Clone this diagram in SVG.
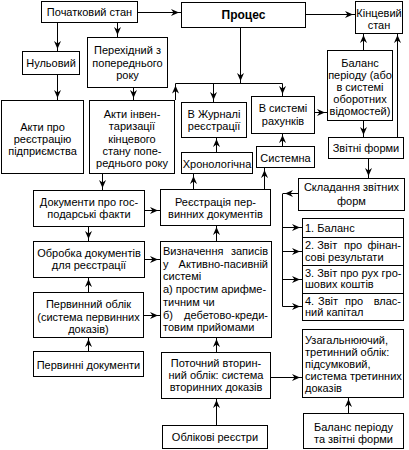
<svg xmlns="http://www.w3.org/2000/svg" width="409" height="450" viewBox="0 0 409 450">
<style>
  rect{fill:#fff;stroke:#000;stroke-width:1}
  text{font-family:"Liberation Sans",Arial,sans-serif;font-size:11px;fill:#000}
  .c{text-anchor:middle}
  .e{text-anchor:end}
  .b{font-weight:bold;font-size:12px}
  #connectors path{fill:none;stroke:#000;stroke-width:1}
</style>
<defs>
  <marker id="ah" viewBox="0 0 10 7" refX="10" refY="3.5" markerWidth="10" markerHeight="7" markerUnits="userSpaceOnUse" orient="auto">
    <path d="M0,0 L8,3.5 L0,7 L2.5,3.5 z" fill="#000"/>
  </marker>
</defs>
<rect x="0" y="0" width="409" height="450" style="stroke:none"/>

<g id="connectors">
  <path d="M137,12.5 H181" marker-end="url(#ah)"/>
  <path d="M305,14.5 H355" marker-end="url(#ah)"/>
  <path d="M57.5,22 V51" marker-end="url(#ah)"/>
  <path d="M117.5,22 V37" marker-end="url(#ah)"/>
  <path d="M57.5,74 V100" marker-end="url(#ah)"/>
  <path d="M133.5,87 V100" marker-end="url(#ah)"/>
  <path d="M240.5,27 V83" marker-end="url(#ah)"/>
  <path d="M175.5,83.5 H282.5"/>
  <path d="M213.5,83.5 V102" marker-end="url(#ah)"/>
  <path d="M282.5,83.5 V96" marker-end="url(#ah)"/>
  <path d="M175.5,100 V83.5" marker-end="url(#ah)"/>
  <path d="M216.5,152 V137" marker-end="url(#ah)"/>
  <path d="M282.5,146 V133" marker-end="url(#ah)"/>
  <path d="M314,112.5 H327" marker-end="url(#ah)"/>
  <path d="M363.5,50 V33" marker-end="url(#ah)"/>
  <path d="M397.5,137 V33" marker-end="url(#ah)"/>
  <path d="M363.5,120 V137" marker-end="url(#ah)"/>
  <path d="M368.5,159 V178" marker-end="url(#ah)"/>
  <path d="M298,193.5 H283" marker-end="url(#ah)"/>
  <path d="M282.5,193.5 V306.5"/>
  <path d="M282.5,227.5 H302" marker-end="url(#ah)"/>
  <path d="M282.5,251.5 H302" marker-end="url(#ah)"/>
  <path d="M282.5,279.5 H302" marker-end="url(#ah)"/>
  <path d="M282.5,306.5 H302" marker-end="url(#ah)"/>
  <path d="M102.5,173 V190" marker-end="url(#ah)"/>
  <path d="M144,210.5 H160" marker-end="url(#ah)"/>
  <path d="M88.5,226 V241" marker-end="url(#ah)"/>
  <path d="M144,259.5 H160" marker-end="url(#ah)"/>
  <path d="M88.5,292 V277" marker-end="url(#ah)"/>
  <path d="M143,315.5 H160" marker-end="url(#ah)"/>
  <path d="M88.5,351 V337" marker-end="url(#ah)"/>
  <path d="M193.5,189 V174" marker-end="url(#ah)"/>
  <path d="M264.5,189 V168" marker-end="url(#ah)"/>
  <path d="M216.5,241 V225" marker-end="url(#ah)"/>
  <path d="M216.5,352 V337" marker-end="url(#ah)"/>
  <path d="M216.5,425 V398" marker-end="url(#ah)"/>
  <path d="M270,377.5 H302" marker-end="url(#ah)"/>
  <path d="M348.5,413 V397" marker-end="url(#ah)"/>
</g>

<g id="start"><rect x="41.5" y="1.5" width="96" height="21"/><text class="c" x="89.5" y="16">Початковий стан</text></g>
<g id="process"><rect x="181.5" y="2.5" width="124" height="25"/><text class="c b" x="243.5" y="19">Процес</text></g>
<g id="final"><rect x="355.5" y="1.5" width="47" height="32"/><text class="c" x="379" y="17">Кінцевий</text><text class="c" x="379" y="29">стан</text></g>
<g id="zero"><rect x="22.5" y="51.5" width="57" height="23"/><text class="c" x="51" y="66.5">Нульовий</text></g>
<g id="transitional"><rect x="87.5" y="37.5" width="80" height="50"/><text class="c" x="127.5" y="54">Перехідний з</text><text class="c" x="127.5" y="66.5">попереднього</text><text class="c" x="127.5" y="79">року</text></g>
<g id="acts-reg"><rect x="1.5" y="100.5" width="82" height="73"/><text class="c" x="42.5" y="130.5">Акти про</text><text class="c" x="42.5" y="142.5">реєстрацію</text><text class="c" x="42.5" y="154.5">підприємства</text></g>
<g id="acts-inv"><rect x="89.5" y="100.5" width="85" height="73"/><text class="c" x="132" y="118">Акти інвен-</text><text class="c" x="132" y="130.3">таризації</text><text class="c" x="132" y="142.6">кінцевого</text><text class="c" x="132" y="155">стану попе-</text><text class="c" x="132" y="167">реднього року</text></g>
<g id="journal"><rect x="181.5" y="102.5" width="65" height="35"/><text class="c" x="214" y="117.5">В Журналі</text><text class="c" x="214" y="129.5">реєстрації</text></g>
<g id="accounts"><rect x="251.5" y="96.5" width="63" height="37"/><text class="c" x="283" y="112">В системі</text><text class="c" x="283" y="125">рахунків</text></g>
<g id="chrono"><rect x="181.5" y="152.5" width="71" height="21"/><text class="c" x="217" y="167.5">Хронологічна</text></g>
<g id="system"><rect x="256.5" y="146.5" width="58" height="21"/><text class="c" x="285.5" y="161.5">Системна</text></g>
<g id="balance-period"><rect x="327.5" y="50.5" width="65" height="70"/><text class="c" x="360" y="67">Баланс</text><text class="c" x="360" y="79">періоду (або</text><text class="c" x="360" y="91">в системі</text><text class="c" x="360" y="103">оборотних</text><text class="c" x="360" y="115">відомостей)</text></g>
<g id="report-forms"><rect x="328.5" y="137.5" width="75" height="21"/><text class="c" x="366" y="151.5">Звітні форми</text></g>
<g id="compile"><rect x="298.5" y="178.5" width="106" height="32"/><text class="c" x="351.5" y="191">Складання звітних</text><text class="c" x="351.5" y="204.5">форм</text></g>
<g id="reports">
  <rect x="302.5" y="218.5" width="101" height="19"/>
  <rect x="302.5" y="237.5" width="101" height="28"/>
  <rect x="302.5" y="265.5" width="101" height="28"/>
  <rect x="302.5" y="293.5" width="101" height="27"/>
  <text x="305" y="232">1. Баланс</text>
  <text x="305" y="249">2. Звіт</text><text x="344" y="249">про</text><text class="e" x="401" y="249">фінан-</text>
  <text x="305" y="260.5">сові результати</text>
  <text x="305" y="277">3. Звіт про рух гро-</text>
  <text x="305" y="288">шових коштів</text>
  <text x="305" y="305">4.</text><text x="318" y="305">Звіт</text><text x="345" y="305">про</text><text class="e" x="401" y="305">влас-</text>
  <text x="305" y="316">ний капітал</text>
</g>
<g id="docs"><rect x="33.5" y="190.5" width="111" height="36"/><text class="c" x="89" y="205.5">Документи про гос-</text><text class="c" x="89" y="218">подарські факти</text></g>
<g id="registration"><rect x="160.5" y="189.5" width="110" height="36"/><text class="c" x="215.5" y="205.5">Реєстрація пер-</text><text class="c" x="215.5" y="218">винних документів</text></g>
<g id="processing"><rect x="33.5" y="241.5" width="111" height="36"/><text class="c" x="89" y="257">Обробка документів</text><text class="c" x="89" y="269">для реєстрації</text></g>
<g id="definition"><rect x="160.5" y="241.5" width="111" height="96"/>
  <text x="163" y="255">Визначення</text><text class="e" x="268" y="255">записів</text>
  <text x="163" y="267.7">у</text><text class="e" x="268" y="267.7">Активно-пасивній</text>
  <text x="163" y="280.4">системі</text>
  <text x="163" y="293">а) простим арифме-</text>
  <text x="163" y="305.8">тичним чи</text>
  <text x="163" y="318.5">б)</text><text class="e" x="268" y="318.5">дебетово-креди-</text>
  <text x="163" y="331">товим прийомами</text>
</g>
<g id="primary"><rect x="33.5" y="292.5" width="110" height="45"/><text class="c" x="88.5" y="308">Первинний облік</text><text class="c" x="88.5" y="320.5">(система первинних</text><text class="c" x="88.5" y="333">доказів)</text></g>
<g id="primary-docs"><rect x="33.5" y="351.5" width="110" height="25"/><text class="c" x="88.5" y="368.5">Первинні документи</text></g>
<g id="secondary"><rect x="161.5" y="352.5" width="109" height="46"/><text class="c" x="216" y="367">Поточний вторин-</text><text class="c" x="216" y="379">ний облік: система</text><text class="c" x="216" y="391">вторинних доказів</text></g>
<g id="registers"><rect x="162.5" y="425.5" width="105" height="23"/><text class="c" x="215" y="440.5">Облікові реєстри</text></g>
<g id="tertiary"><rect x="302.5" y="329.5" width="101" height="68"/><text x="305" y="344">Узагальнюючий,</text><text x="305" y="356">третинний облік:</text><text x="305" y="368">підсумковий,</text><text x="305" y="380">система третинних</text><text x="305" y="392">доказів</text></g>
<g id="balance-forms"><rect x="303.5" y="413.5" width="100" height="35"/><text class="c" x="353.5" y="431">Баланс періоду</text><text class="c" x="353.5" y="443">та звітні форми</text></g>
</svg>
